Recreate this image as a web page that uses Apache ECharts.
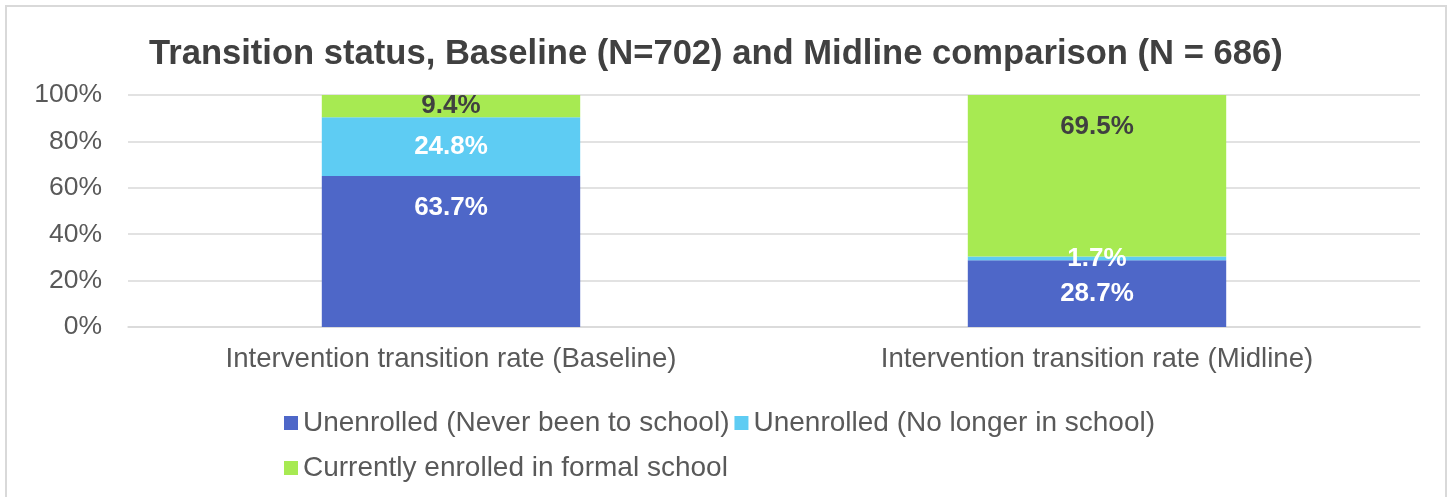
<!DOCTYPE html>
<html>
<head>
<meta charset="utf-8">
<title>Transition status</title>
<script src="https://cdn.jsdelivr.net/npm/echarts@6/dist/echarts.min.js"></script>
<style>
  html, body { margin: 0; padding: 0; background: #ffffff; }
  #chart { width: 1450px; height: 497px; }
</style>
</head>
<body>
<div id="chart"></div>
<script>
// Categories and values (percent of respondents in each round)
const categories = [
  'Intervention transition rate (Baseline)',
  'Intervention transition rate (Midline)'
];
const seriesNames = [
  'Unenrolled (Never been to school)',
  'Unenrolled (No longer in school)',
  'Currently enrolled in formal school'
];
const neverBeenToSchool = [63.7, 28.7];
const noLongerInSchool = [24.8, 1.7];
const currentlyEnrolled = [9.4, 69.5];
const yTicks = [0, 20, 40, 60, 80, 100];

const FONT = '"Liberation Sans", Arial, sans-serif';
const colors = ['#4E67C8', '#5ECCF3', '#A7EA52'];
const labelColors = ['#ffffff', '#ffffff', '#404040'];

// 100% stacked: each segment is its share of the category total
const raw = [neverBeenToSchool, noLongerInSchool, currentlyEnrolled];
const totals = categories.map((_, i) => raw.reduce((s, arr) => s + arr[i], 0));

// labels pulled towards the top of the tall segments
const topLabelled = { '0-0': true, '2-1': true };

const series = raw.map((arr, si) => ({
  name: seriesNames[si],
  type: 'bar',
  stack: 'total',
  barWidth: '40%',
  itemStyle: { color: colors[si] },
  data: arr.map((v, ci) => {
    const item = { value: v / totals[ci] * 100, raw: v };
    if (topLabelled[si + '-' + ci]) {
      item.label = { position: 'insideTop', distance: 19 };
    }
    return item;
  }),
  label: {
    show: true,
    position: 'inside',
    color: labelColors[si],
    fontFamily: FONT,
    fontWeight: 'bold',
    fontSize: 26,
    formatter: p => p.data.raw.toFixed(1) + '%'
  }
}));

const chart = echarts.init(document.getElementById('chart'), null, { renderer: 'canvas' });
chart.setOption({
  animation: false,
  backgroundColor: '#ffffff',
  title: {
    text: 'Transition status, Baseline (N=702) and Midline comparison (N = 686)',
    left: 149,
    top: 37,
    padding: 0,
    textStyle: { fontFamily: FONT, fontWeight: 'bold', fontSize: 34.6, color: '#404040' }
  },
  graphic: [{
    type: 'rect',
    shape: { x: 6, y: 6, width: 1440, height: 520 },
    style: { fill: null, stroke: '#d9d9d9', lineWidth: 2 },
    silent: true,
    z: -1
  }],
  grid: { left: 128, right: 30, top: 95, bottom: 170, containLabel: false },
  xAxis: {
    type: 'category',
    data: categories,
    axisLine: { lineStyle: { color: '#d9d9d9', width: 1.5 } },
    axisTick: { show: false },
    axisLabel: { color: '#595959', fontFamily: FONT, fontSize: 27.6, margin: 18 }
  },
  yAxis: {
    type: 'value',
    min: yTicks[0],
    max: yTicks[yTicks.length - 1],
    interval: yTicks[1] - yTicks[0],
    axisLine: { show: false },
    axisTick: { show: false },
    splitLine: { lineStyle: { color: '#d9d9d9', width: 1.5 } },
    axisLabel: { color: '#595959', fontFamily: FONT, fontSize: 26.5, margin: 26, formatter: '{value}%' }
  },
  legend: {
    data: seriesNames,
    left: 279,
    top: 398,
    width: 900,
    itemWidth: 14,
    itemHeight: 14,
    itemGap: 5,
    icon: 'rect',
    textStyle: { color: '#595959', fontFamily: FONT, fontSize: 28, lineHeight: 40 }
  },
  series: series
});
</script>
</body>
</html>
